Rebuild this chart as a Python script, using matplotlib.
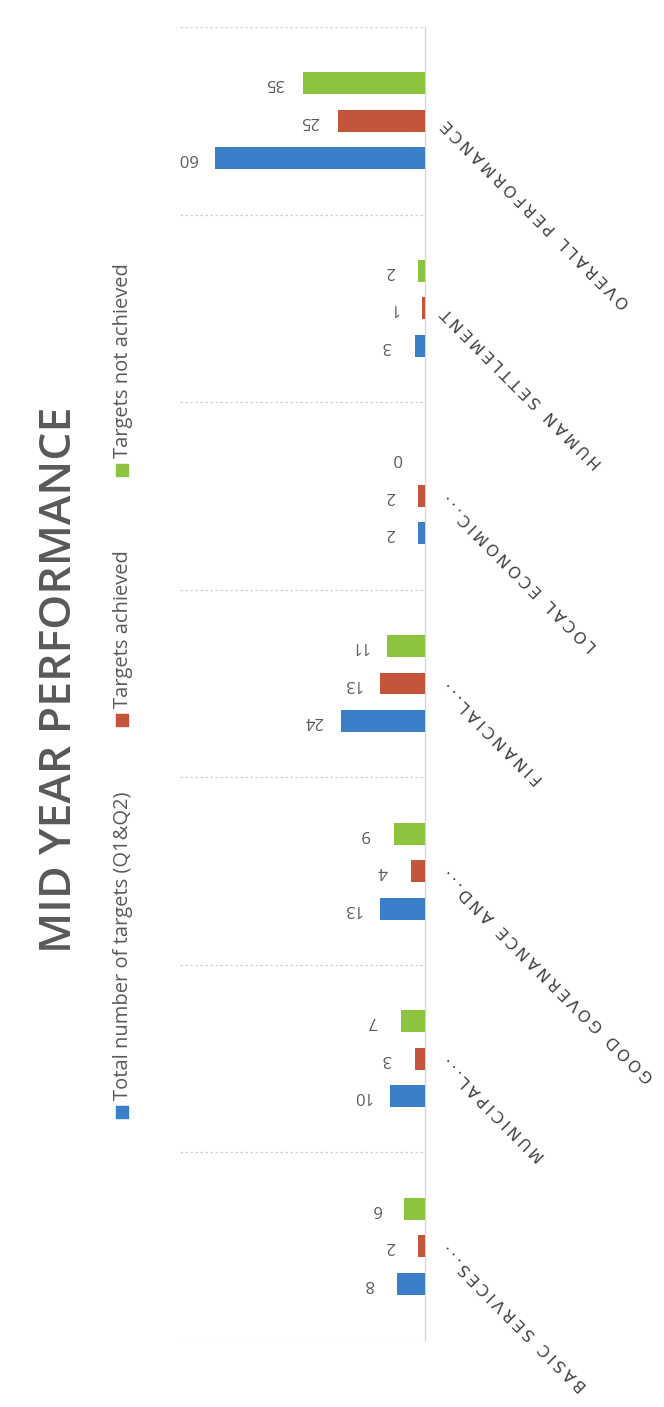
import numpy as np
import matplotlib
matplotlib.use("Agg")
import matplotlib.pyplot as plt
from matplotlib.patches import Rectangle

# Data (categories bottom -> top, as drawn in the rotated scan)
categories = [
    "BASIC SERVICES...",
    "MUNICIPAL...",
    "GOOD GOVERNANCE AND...",
    "FINANCIAL...",
    "LOCAL ECONOMIC...",
    "HUMAN SETTLEMENT",
    "OVERALL PERFORMANCE",
]
total_targets = [8, 10, 13, 24, 2, 3, 60]
achieved      = [2, 3, 4, 13, 2, 1, 25]
not_achieved  = [6, 7, 9, 11, 0, 2, 35]

series_labels = [
    "Total number of targets (Q1&Q2)",
    "Targets achieved",
    "Targets not achieved",
]
series_colors = ["#3b7fc8", "#c4553b", "#8cc43f"]
title = "MID YEAR PERFORMANCE"

TEXT_GRAY = "#595959"
LABEL_FONT = ["Open Sans", "DejaVu Sans"]

fig = plt.figure(figsize=(6.64, 14.07), dpi=100)
ax = fig.add_axes([180 / 664, 1 - 1340 / 1407, 245 / 664, 1313 / 1407])

y = np.arange(len(categories))
bar_h = 0.117
offsets = [-0.2, 0.0, 0.2]
series = [total_targets, achieved, not_achieved]

for vals, off, col in zip(series, offsets, series_colors):
    bars = ax.barh(y + off, vals, height=bar_h, color=col, zorder=3)
    for b, v in zip(bars, vals):
        ax.annotate(str(v), (b.get_width(), b.get_y() + b.get_height() / 2),
                    xytext=(-20, 0), textcoords="offset points",
                    ha="center", va="center", rotation=180,
                    fontsize=12, color=TEXT_GRAY, family=LABEL_FONT)

ax.set_xlim(70, 0)
ax.set_ylim(-0.5, len(categories) - 0.5)

# category separators (faint dotted)
for b in np.arange(-0.5, len(categories), 1.0):
    ax.axhline(b, color="#cfcfcf", lw=0.9, ls=(0, (2, 2)), zorder=1)

for s in ["top", "left", "bottom"]:
    ax.spines[s].set_visible(False)
ax.spines["right"].set_color("#d4d4d4")
ax.spines["right"].set_linewidth(0.9)
ax.set_xticks([])
ax.set_yticks([])

# category labels, letter-spaced, reading up-left
for yi, cat in zip(y, categories):
    spaced = "\u2009".join(cat)
    ax.annotate(spaced, (0, yi), xytext=(14, -1), textcoords="offset points",
                ha="right", va="center", rotation=135, rotation_mode="anchor",
                fontsize=11.5, color="#404040", family=["DejaVu Sans"],
                annotation_clip=False)

# title
fig.text(60 / 664, 1 - 680 / 1407, title, rotation=90, ha="center", va="center",
         fontsize=32, color=TEXT_GRAY, family=LABEL_FONT, fontweight="semibold")

# legend drawn manually (rotated)
legend_px = [1112, 720, 470]
for lab, col, py in zip(series_labels, series_colors, legend_px):
    sq = 12
    fig.add_artist(Rectangle(((122 - sq / 2) / 664, 1 - (py + sq / 2) / 1407),
                             sq / 664, sq / 1407, transform=fig.transFigure,
                             color=col))
    fig.text(123 / 664, 1 - (py - 12) / 1407, lab, rotation=90,
             ha="center", va="bottom", fontsize=14.5, color=TEXT_GRAY,
             family=LABEL_FONT)

fig.savefig("out.png", dpi=100)
